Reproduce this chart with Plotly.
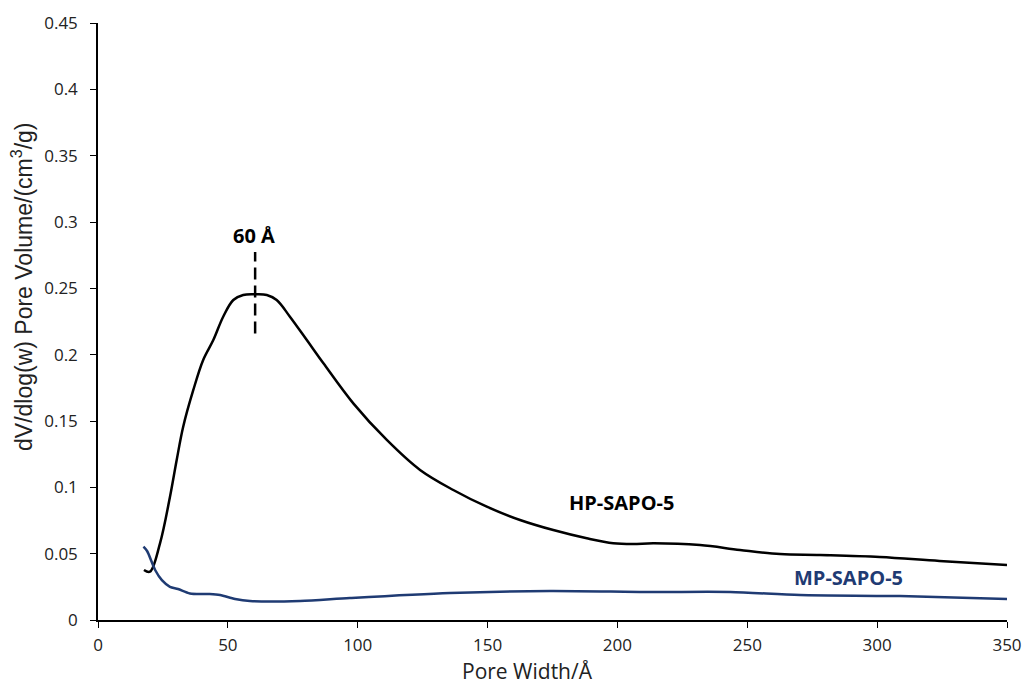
import plotly.graph_objects as go

# Pore size distribution (BJH-style) for two SAPO-5 samples
hp_width = [17.7, 20.0, 23.9, 27.7, 30.3, 32.8, 36.7, 40.5, 44.4, 48.2, 52.1, 55.9,
            60.5, 65.0, 68.8, 73.9, 80.4, 86.8, 98.3, 111.2, 124.0, 136.8,
            149.7, 162.5, 175.3, 188.2, 198.4, 206.0, 213.8, 231.8, 247.2, 262.6,
            278.0, 301.0, 324.0, 350.0]
hp_volume = [0.0377, 0.0364, 0.058, 0.0927, 0.1206, 0.1457, 0.1734, 0.196, 0.211,
             0.2286, 0.2412, 0.245, 0.2455, 0.245, 0.2412, 0.2286, 0.211, 0.1935,
             0.1633, 0.1357, 0.1131, 0.098, 0.0854, 0.0754, 0.0678, 0.0616,
             0.0578, 0.0572, 0.0578, 0.0565, 0.0528, 0.0497, 0.049, 0.0475, 0.0445,
             0.0415]

mp_width = [17.5, 18.9, 22.0, 24.6, 27.7, 30.8, 35.4, 43.0, 47.0, 52.8, 58.5, 77.8,
            97.0, 135.5, 174.0, 212.5, 243.4, 270.3, 308.8, 350.0]
mp_volume = [0.0553, 0.052, 0.0377, 0.030, 0.025, 0.0234, 0.020, 0.0196, 0.0188, 0.0158,
             0.0143, 0.0143, 0.0166, 0.0204, 0.0219, 0.0211, 0.0211, 0.0188, 0.018, 0.0158]

peak_width = 60.5
peak_marker = [0.216, 0.2774]

x_ticks = [0, 50, 100, 150, 200, 250, 300, 350]
y_ticks = [0, 0.05, 0.1, 0.15, 0.2, 0.25, 0.3, 0.35, 0.4, 0.45]
y_tick_text = ["0", "0.05", "0.1", "0.15", "0.2", "0.25", "0.3", "0.35", "0.4", "0.45"]

navy = "#1F3B73"
font_family = "Open Sans, DejaVu Sans, sans-serif"
label_font = dict(size=20, family=font_family)

# Plot area in pixels
W, H = 1025, 684
M_L, M_R, M_T, M_B = 98, 18, 23, 64
plot_w = W - M_L - M_R
plot_h = H - M_T - M_B


def px_to_paper_x(px):
    return (px - M_L) / plot_w


def px_to_paper_y(py):
    return (H - M_B - py) / plot_h


fig = go.Figure()
fig.add_trace(go.Scatter(x=hp_width, y=hp_volume, mode="lines", name="HP-SAPO-5",
                         line=dict(color="black", width=2.5, shape="spline", smoothing=1.0)))
fig.add_trace(go.Scatter(x=mp_width, y=mp_volume, mode="lines", name="MP-SAPO-5",
                         line=dict(color=navy, width=2.5, shape="spline", smoothing=0.8)))
fig.add_trace(go.Scatter(x=[peak_width, peak_width], y=peak_marker, mode="lines",
                         line=dict(color="black", width=2.5, dash="12px,6px"),
                         showlegend=False))

fig.add_annotation(x=60.0, y=0.290, text="<b>60 Å</b>", showarrow=False,
                   font=dict(color="black", **label_font))
fig.add_annotation(x=201.6, y=0.0889, text="<b>HP-SAPO-5</b>", showarrow=False,
                   font=dict(color="black", **label_font))
fig.add_annotation(x=288.8, y=0.0324, text="<b>MP-SAPO-5</b>", showarrow=False,
                   font=dict(color=navy, **label_font))

# Axis titles
fig.add_annotation(x=px_to_paper_x(527), y=px_to_paper_y(671), xref="paper", yref="paper",
                   xanchor="center", yanchor="middle",
                   text="Pore Width/Å", showarrow=False,
                   font=dict(size=21, family=font_family, color="#222"))
fig.add_annotation(x=px_to_paper_x(22), y=px_to_paper_y(287), xref="paper", yref="paper",
                   xanchor="center", yanchor="middle",
                   text="dV/dlog(w) Pore Volume/(cm<sup>3</sup>/g)", textangle=-90,
                   showarrow=False,
                   font=dict(size=23, family="Liberation Sans, Arial, sans-serif", color="#222"))

fig.update_layout(
    width=W, height=H,
    margin=dict(l=M_L, r=M_R, t=M_T, b=M_B),
    paper_bgcolor="white", plot_bgcolor="white",
    showlegend=False,
    font=dict(family=font_family, size=17, color="#222"),
    xaxis=dict(range=[0, 350], tickvals=x_ticks, showgrid=False, zeroline=False,
               showline=True, linecolor="black", linewidth=1.5, automargin=False,
               ticks="outside", ticklen=6, tickcolor="black", ticklabelstandoff=3),
    yaxis=dict(range=[0, 0.45], tickvals=y_ticks, ticktext=y_tick_text, showgrid=False,
               zeroline=False, showline=True, linecolor="black", linewidth=1.5,
               automargin=False, ticks="outside", ticklen=6, tickcolor="black",
               ticklabelstandoff=9),
)

fig.write_html("out.html")
